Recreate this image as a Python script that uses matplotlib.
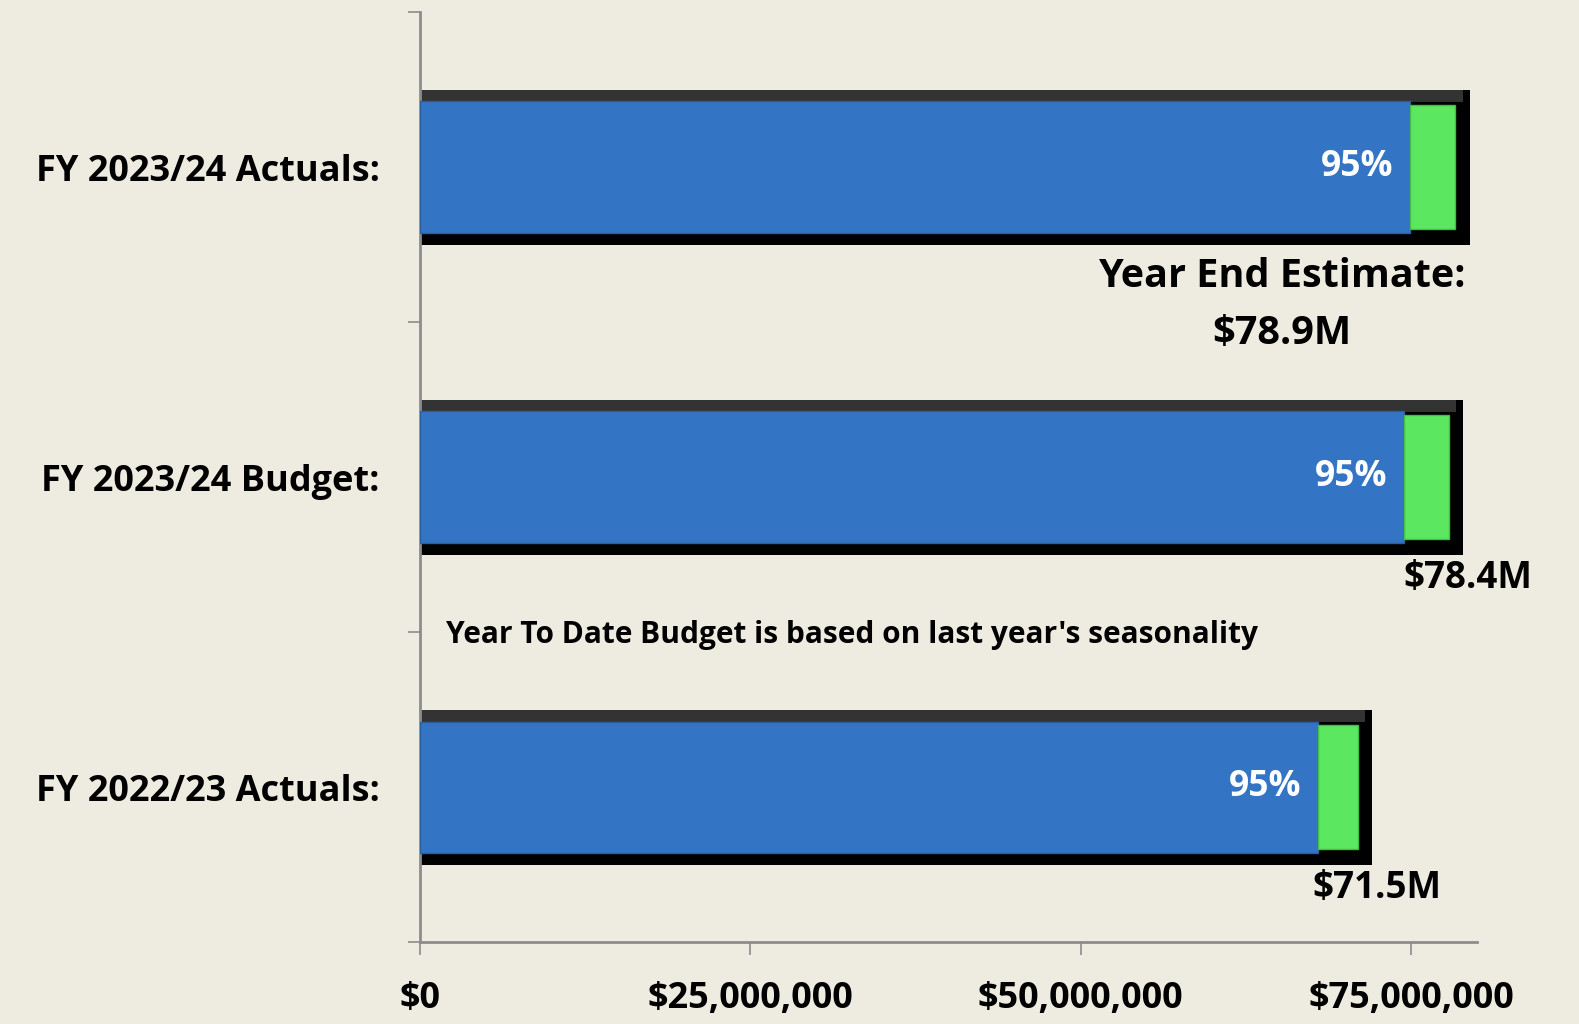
import matplotlib.pyplot as plt
from matplotlib.ticker import FuncFormatter

# data (bottom to top)
categories = ['FY 2022/23 Actuals:', 'FY 2023/24 Budget:', 'FY 2023/24 Actuals:']
totals = [71.5e6, 78.4e6, 78.9e6]
pct_done = [0.95, 0.95, 0.95]
value_labels = ['$71.5M', '$78.4M', None]
note = "Year To Date Budget is based on last year's seasonality"
estimate_label = 'Year End Estimate:\n$78.9M'
xticks = [0, 25e6, 50e6, 75e6]

bg = '#EEEBE0'
blue = '#3375C4'
green = '#5BE860'
font = 'Open Sans'

fig = plt.figure(figsize=(15.79, 10.24), dpi=100, facecolor=bg)
ax = fig.add_axes([0.266, 0.0796, 0.6695, 0.9086], facecolor=bg)

bevel = 0.55e6
for i, (tot, p) in enumerate(zip(totals, pct_done)):
    done = tot * p
    # black 3D frame
    ax.barh(i, tot + bevel, height=0.5, color='black', zorder=2)
    ax.barh(i + 0.23, tot, height=0.04, color='#333333', zorder=2.5)
    # blue completed portion
    ax.barh(i, done, height=0.425, color=blue, edgecolor='#2a5f9e', linewidth=1, zorder=3)
    # green remainder
    ax.barh(i, tot - bevel - done, left=done, height=0.40, color=green,
            edgecolor='#3fbf45', linewidth=1, zorder=3)
    ax.annotate(f'{p:.0%}', (done, i), xytext=(-12, 0), textcoords='offset points',
                ha='right', va='center', color='white', fontsize=25.5,
                fontweight='bold', family=font, zorder=4)
    if value_labels[i]:
        ax.text(tot + 0.9e6, i - 0.325, value_labels[i], ha='center', va='center',
                fontsize=26.5, fontweight='bold', family=font)

ax.text(65.2e6, 2 - 0.445, estimate_label, ha='center', va='center',
        fontsize=28.5, fontweight='bold', family=font, linespacing=1.6)
ax.text(2.0e6, 0.49, note, ha='left', va='center', fontsize=21.5,
        fontweight='bold', family=font)

ax.set_xlim(0, 80e6)
ax.set_ylim(-0.5, 2.5)
ax.set_xticks(xticks)
ax.xaxis.set_major_formatter(FuncFormatter(lambda v, _: f'${v:,.0f}'))
ax.set_yticks([-0.5, 0.5, 1.5, 2.5])
ax.set_yticklabels([])
ax.set_yticks(range(len(categories)), minor=True)
ax.set_yticklabels(categories, minor=True)

for s in ['top', 'right']:
    ax.spines[s].set_visible(False)
for s in ['left', 'bottom']:
    ax.spines[s].set_color('#8c8c8c')
    ax.spines[s].set_linewidth(2)
ax.spines['bottom'].set_bounds(0, 80e6)

ax.tick_params(axis='x', length=9, width=1.2, color='#8c8c8c', pad=19,
               labelsize=26)
ax.tick_params(axis='y', which='major', length=9, width=1.2, color='#8c8c8c')
ax.tick_params(axis='y', which='minor', length=0, pad=29, labelsize=26)
for lab in ax.get_xticklabels() + ax.get_yticklabels(minor=True):
    lab.set_fontweight('bold')
    lab.set_family(font)

fig.savefig('out.png', dpi=100, facecolor=bg)
